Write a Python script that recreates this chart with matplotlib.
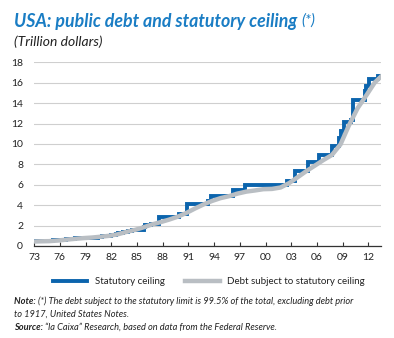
import matplotlib
matplotlib.use("Agg")
import matplotlib.pyplot as plt
from matplotlib.lines import Line2D

# ---- data (trillion dollars) ----
ceiling_years = [1973.0, 1974.5, 1975.15, 1975.9, 1976.5, 1976.75, 1977.75, 1978.8,
                 1979.5, 1980.5, 1980.95, 1981.75, 1981.95, 1982.5, 1982.75, 1983.4,
                 1983.9, 1984.4, 1984.75, 1985.85, 1985.95, 1986.6, 1987.6, 1989.6,
                 1989.9, 1990.85, 1993.3, 1993.6, 1996.2, 1997.6, 2002.5, 2003.4,
                 2004.9, 2006.2, 2007.7, 2008.55, 2008.8, 2009.15, 2009.95, 2010.15,
                 2011.6, 2011.75, 2012.05, 2013.1, 2013.6]
ceiling_values = [0.465, 0.495, 0.577, 0.595, 0.636, 0.682, 0.752, 0.798,
                  0.830, 0.925, 0.935, 0.999, 1.079, 1.143, 1.290, 1.389,
                  1.490, 1.520, 1.573, 1.824, 2.079, 2.111, 2.800, 2.870,
                  3.123, 4.145, 4.370, 4.900, 5.500, 5.950, 6.400, 7.384,
                  8.184, 8.965, 9.815, 10.615, 11.315, 12.104, 12.394, 14.294,
                  15.194, 15.694, 16.394, 16.699, 16.699]

debt_years = [1973.0, 1973.75, 1974.75, 1975.75, 1976.75, 1977.75, 1978.75, 1979.75,
              1980.75, 1981.75, 1982.75, 1983.75, 1984.75, 1985.75, 1986.75, 1987.75,
              1988.75, 1989.75, 1990.75, 1991.75, 1992.75, 1993.75, 1994.75, 1995.75,
              1996.75, 1997.75, 1998.75, 1999.75, 2000.75, 2001.75, 2002.75, 2003.75,
              2004.75, 2005.75, 2006.75, 2007.75, 2008.75, 2009.75, 2010.75, 2011.75,
              2012.75, 2013.6]
debt_values = [0.440, 0.459, 0.476, 0.534, 0.621, 0.700, 0.772, 0.827,
               0.908, 0.998, 1.143, 1.377, 1.573, 1.823, 2.111, 2.336,
               2.586, 2.868, 3.233, 3.665, 4.065, 4.412, 4.690, 4.884,
               5.137, 5.328, 5.440, 5.567, 5.592, 5.732, 6.161, 6.738,
               7.333, 7.871, 8.420, 8.921, 9.960, 11.853, 13.510, 14.746,
               16.027, 16.699]

x_ticks = list(range(1973, 2013, 3))
x_labels = ["%02d" % (y % 100) for y in x_ticks]
y_ticks = list(range(0, 19, 2))
legend_labels = ["Statutory ceiling", "Debt subject to statutory ceiling"]

FONT = "Lato"
BLUE = "#0b64ad"
GRAY = "#b9bec3"
TITLE_BLUE = "#1a7dc4"
TXT = "#222222"
W, H = 394, 338

fig = plt.figure(figsize=(3.94, 3.38), dpi=100)
ax = fig.add_axes([0.0866, 0.2722, 0.881, 0.5435])

ax.plot(ceiling_years, ceiling_values, drawstyle="steps-post", color=BLUE, lw=2.8,
        solid_joinstyle="miter", zorder=3)
ax.plot(debt_years, debt_values, color=GRAY, lw=3.2, zorder=4)

ax.set_xlim(1973, 2013.5)
ax.set_ylim(0, 18)
ax.set_xticks(x_ticks)
ax.set_xticklabels(x_labels)
ax.set_yticks(y_ticks)
ax.yaxis.grid(True, color="#cfcfcf", lw=0.8)
ax.set_axisbelow(True)
for s in ["left", "right", "top"]:
    ax.spines[s].set_visible(False)
ax.spines["bottom"].set_color("#333333")
ax.spines["bottom"].set_linewidth(0.9)
ax.tick_params(axis="y", length=0, pad=8, labelsize=7.5, labelcolor=TXT)
ax.tick_params(axis="x", direction="in", length=3, width=0.8, color="#333333",
               pad=5, labelsize=7.5, labelcolor=TXT)
for lab in ax.get_xticklabels() + ax.get_yticklabels():
    lab.set_family(FONT)


def fx(px):
    return px / W


def fy(py):
    return 1 - py / H


def text_run(x_px, y_px, parts):
    """parts: list of (string, kwargs); drawn one after another."""
    fig.canvas.draw()
    r = fig.canvas.get_renderer()
    x = fx(x_px)
    for s, kw in parts:
        t = fig.text(x, fy(y_px), s, family=FONT, va="center", **kw)
        bb = t.get_window_extent(renderer=r)
        x = bb.x1 / W


text_run(14, 21, [("USA: public debt and statutory ceiling ",
                   dict(fontsize=12.8, fontweight="bold", style="italic", color=TITLE_BLUE)),
                  ("(*)", dict(fontsize=11, style="italic", color=TITLE_BLUE))])
fig.text(fx(14), fy(42), "(Trillion dollars)", family=FONT, fontsize=10,
         style="italic", color=TXT, va="center")

# legend drawn manually
ly = fy(281)
fig.add_artist(Line2D([fx(53), fx(87)], [ly, ly], color=BLUE, lw=2.8))
fig.text(fx(95), ly, legend_labels[0], family=FONT, fontsize=7, color=TXT, va="center")
fig.add_artist(Line2D([fx(185), fx(220)], [ly, ly], color=GRAY, lw=3.2))
fig.text(fx(227), ly, legend_labels[1], family=FONT, fontsize=7, color=TXT, va="center")

NS = 6.7
text_run(14, 301, [("Note: ", dict(fontsize=NS, fontweight="bold", style="italic", color=TXT)),
                   ("(*) The debt subject to the statutory limit is 99.5% of the total, excluding debt prior",
                    dict(fontsize=NS, style="italic", color=TXT))])
fig.text(fx(14), fy(314), "to 1917, United States Notes.", family=FONT, fontsize=NS,
         style="italic", color=TXT, va="center")
text_run(14, 327, [("Source: ", dict(fontsize=NS, fontweight="bold", style="italic", color=TXT)),
                   ("\u201cla Caixa\u201d Research, based on data from the Federal Reserve.",
                    dict(fontsize=NS, style="italic", color=TXT))])

fig.savefig("out.png", dpi=100)
